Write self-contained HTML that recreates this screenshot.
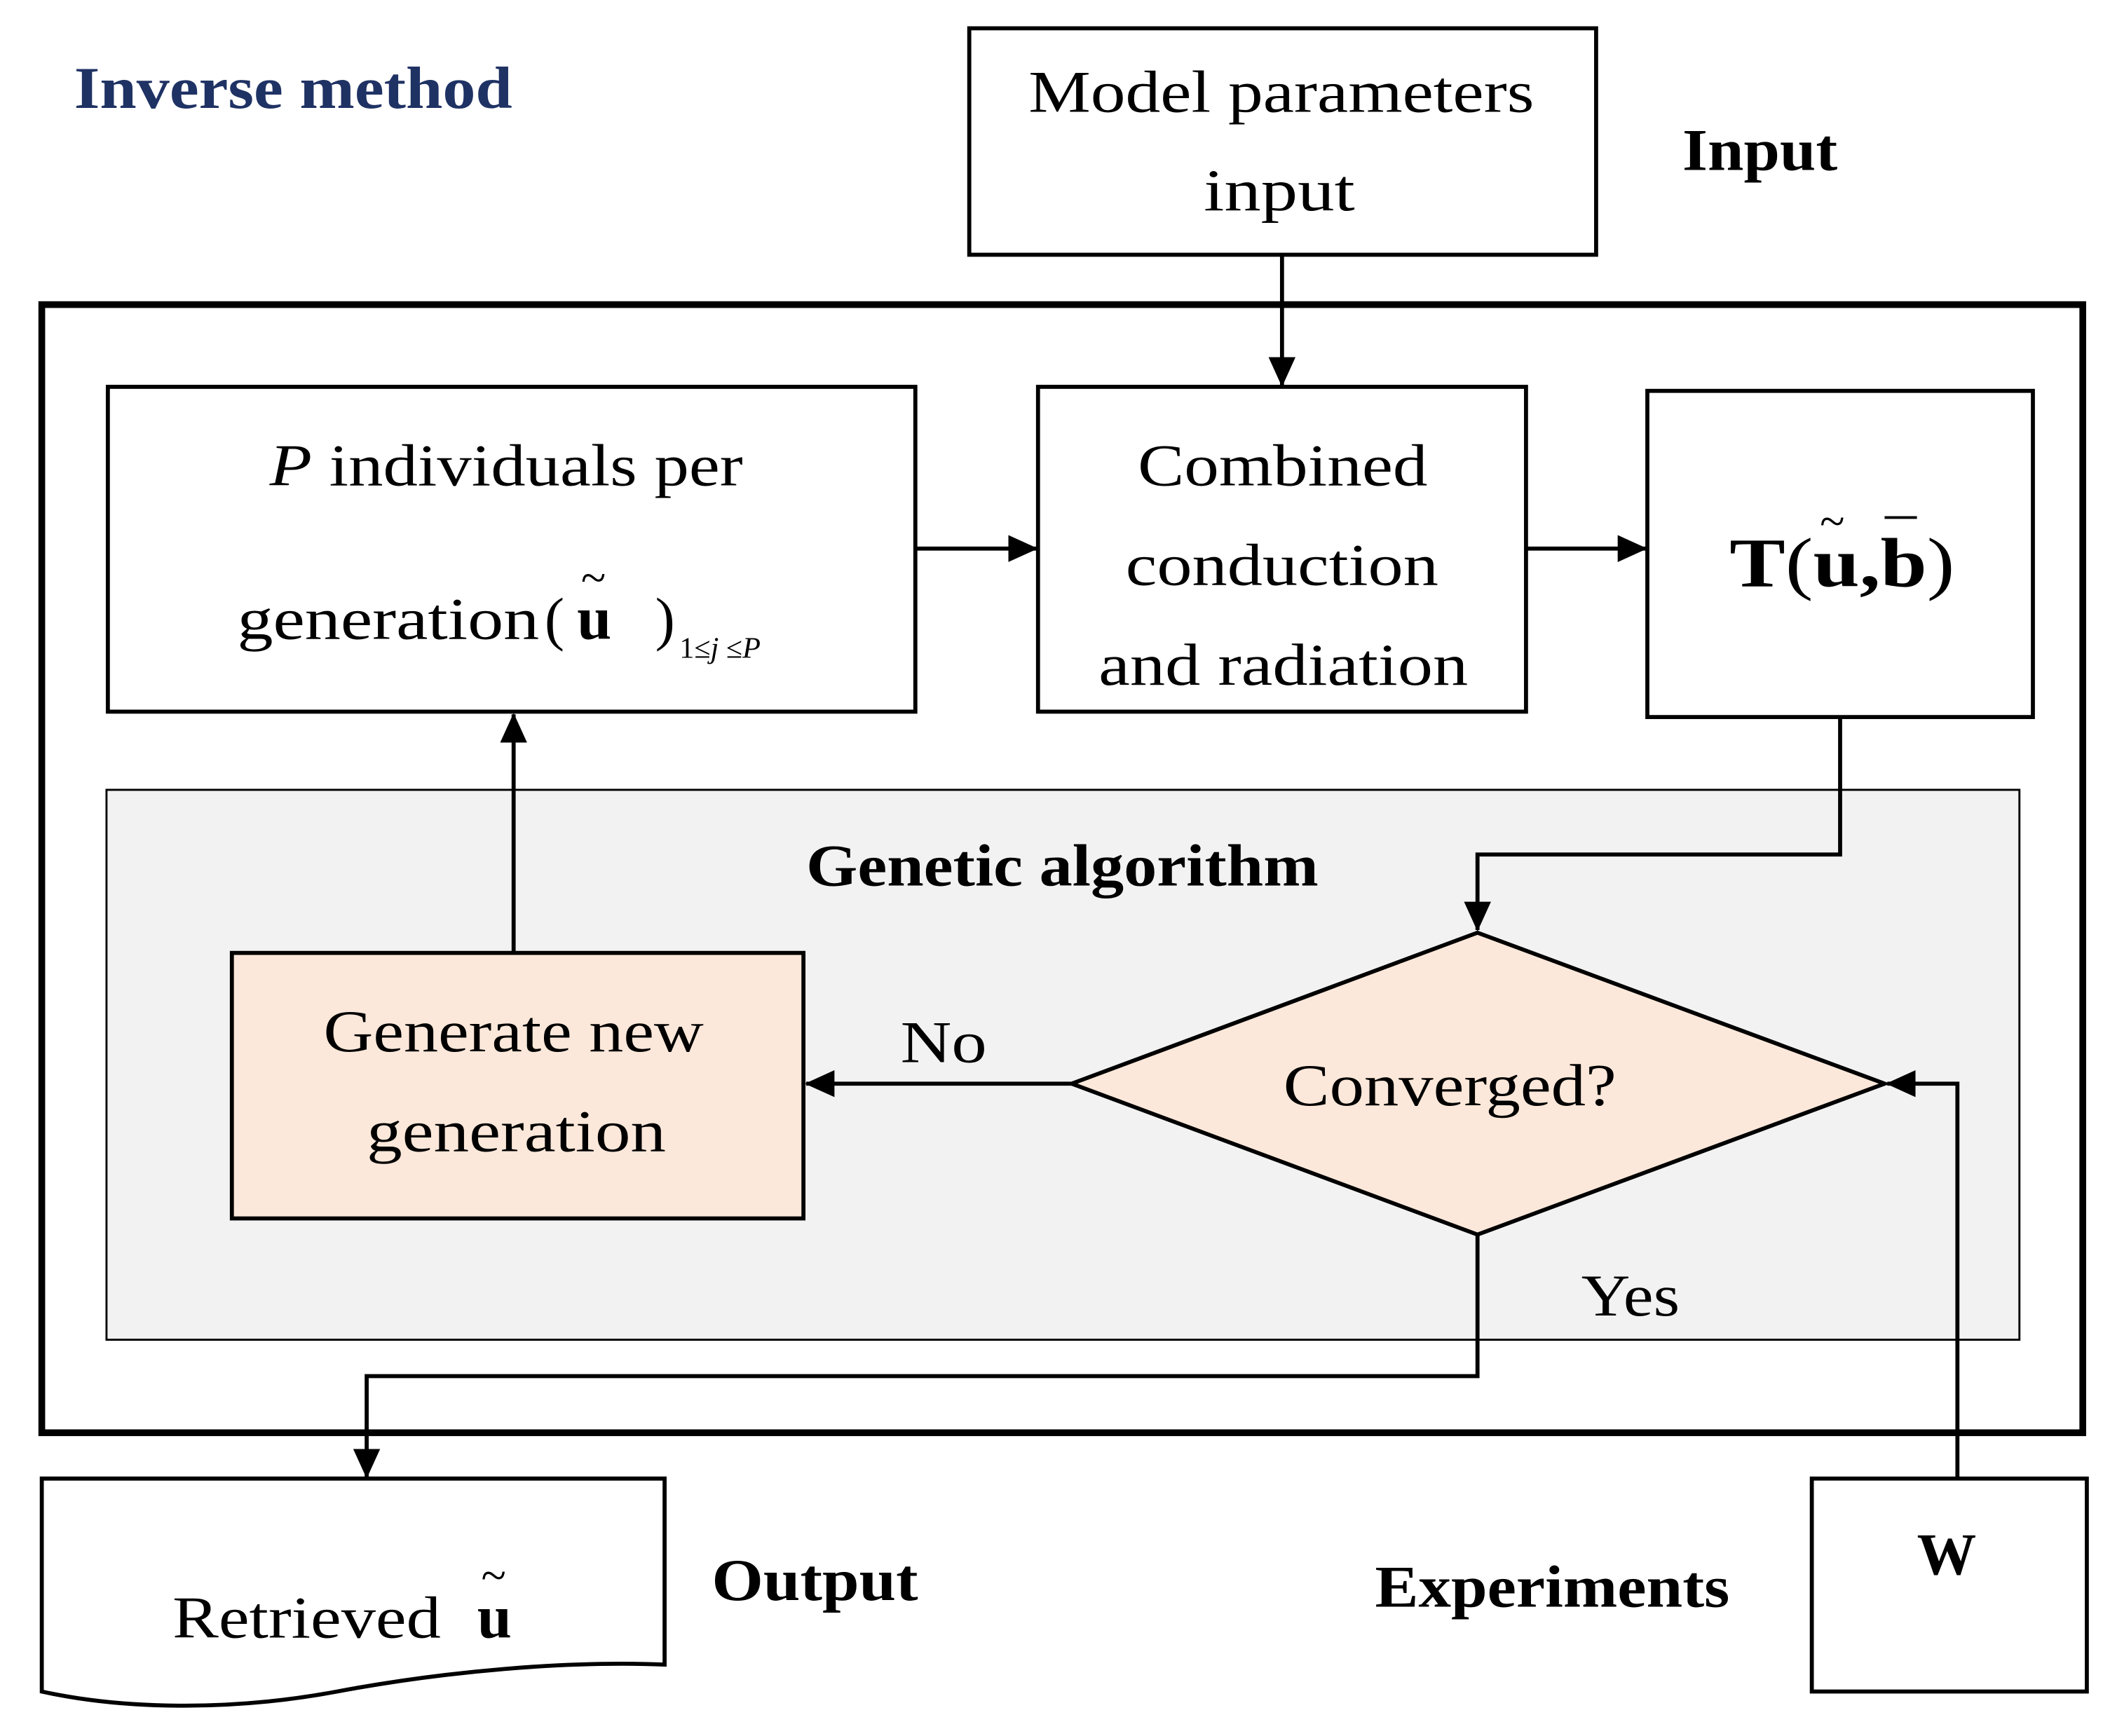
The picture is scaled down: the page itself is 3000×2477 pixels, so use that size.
<!DOCTYPE html>
<html><head><meta charset="utf-8"><style>
html,body{margin:0;padding:0;background:#fff}
svg{display:block}
text{font-family:"Liberation Serif",serif}
</style></head><body>
<svg width="3000" height="2477" viewBox="0 0 1560 1288" preserveAspectRatio="none" xmlns="http://www.w3.org/2000/svg">
<defs>
<marker id="ar" markerWidth="22" markerHeight="20" refX="21" refY="10" orient="auto" markerUnits="userSpaceOnUse" viewBox="0 0 22 20">
<path d="M0,0 L22,10 L0,20 z" fill="#000"/></marker>
</defs>
<rect width="1560" height="1288" fill="#fff"/>
<text x="55" y="80" font-size="44" font-weight="bold" fill="#1f3264" textLength="325" lengthAdjust="spacingAndGlyphs">Inverse method</text>
<rect x="719" y="21" width="465" height="168" fill="#fff" stroke="#000" stroke-width="3"/>
<text x="763" y="83" font-size="44" textLength="375" lengthAdjust="spacingAndGlyphs">Model parameters</text>
<text x="893" y="156" font-size="44" textLength="112" lengthAdjust="spacingAndGlyphs">input</text>
<text x="1248" y="126" font-size="44" font-weight="bold" textLength="115" lengthAdjust="spacingAndGlyphs">Input</text>
<rect x="31" y="226" width="1514" height="837" fill="none" stroke="#000" stroke-width="5"/>
<rect x="79" y="586" width="1419" height="408" fill="#f2f2f2" stroke="#000" stroke-width="1.5"/>
<rect x="80" y="287" width="599" height="241" fill="#fff" stroke="#000" stroke-width="3"/>
<text x="200" y="360" font-size="44" textLength="351" lengthAdjust="spacingAndGlyphs"><tspan font-style="italic">P</tspan> individuals per</text>
<text x="176" y="474" font-size="44" textLength="224" lengthAdjust="spacingAndGlyphs">generation</text>
<text x="404" y="474" font-size="44">(</text>
<text x="428" y="474" font-size="46" font-weight="bold">u</text>
<text x="431" y="440" font-size="34">~</text>
<text x="486" y="474" font-size="44">)</text>
<text x="504" y="488" font-size="22">1≤<tspan font-style="italic">j</tspan> ≤<tspan font-style="italic">P</tspan></text>
<rect x="770" y="287" width="362" height="241" fill="#fff" stroke="#000" stroke-width="3"/>
<text x="844" y="360" font-size="44" textLength="215" lengthAdjust="spacingAndGlyphs">Combined</text>
<text x="835" y="434" font-size="44" textLength="232" lengthAdjust="spacingAndGlyphs">conduction</text>
<text x="815" y="508" font-size="44" textLength="274" lengthAdjust="spacingAndGlyphs">and radiation</text>
<rect x="1222" y="290" width="286" height="242" fill="#fff" stroke="#000" stroke-width="3"/>
<text x="1283" y="435" font-size="52" font-weight="bold" textLength="167" lengthAdjust="spacingAndGlyphs">T<tspan font-weight="normal">(</tspan>u,b<tspan font-weight="normal">)</tspan></text>
<text x="1350" y="398" font-size="34">~</text>
<line x1="1398" y1="384" x2="1422" y2="384" stroke="#000" stroke-width="2"/>
<text x="598" y="657" font-size="44" font-weight="bold" textLength="380" lengthAdjust="spacingAndGlyphs">Genetic algorithm</text>
<rect x="172" y="707" width="424" height="197" fill="#fce8da" stroke="#000" stroke-width="3"/>
<text x="240" y="780" font-size="44" textLength="282" lengthAdjust="spacingAndGlyphs">Generate new</text>
<text x="272" y="854" font-size="44" textLength="222" lengthAdjust="spacingAndGlyphs">generation</text>
<polygon points="795,804 1096,692 1398,804 1096,916" fill="#fce8da" stroke="#000" stroke-width="3"/>
<text x="952" y="820" font-size="44" textLength="247" lengthAdjust="spacingAndGlyphs">Converged?</text>
<text x="668" y="788" font-size="44" textLength="64" lengthAdjust="spacingAndGlyphs">No</text>
<text x="1173" y="976" font-size="44" textLength="73" lengthAdjust="spacingAndGlyphs">Yes</text>
<g stroke="#000" stroke-width="3" fill="none" marker-end="url(#ar)">
<line x1="951" y1="189" x2="951" y2="286"/>
<line x1="679" y1="407" x2="769" y2="407"/>
<line x1="1132" y1="407" x2="1221" y2="407"/>
<polyline points="1365,532 1365,634 1096,634 1096,690"/>
<line x1="381" y1="707" x2="381" y2="530"/>
<line x1="795" y1="804" x2="598" y2="804"/>
<polyline points="1096,916 1096,1021 272,1021 272,1096"/>
<polyline points="1452,1097 1452,804 1400,804"/>
</g>
<path d="M31,1097 L493,1097 L493,1235 C420,1232 330,1240 250,1255 C170,1270 90,1268 31,1255 Z" fill="#fff" stroke="#000" stroke-width="3"/>
<text x="128" y="1215" font-size="44" textLength="199" lengthAdjust="spacingAndGlyphs">Retrieved</text>
<text x="354" y="1215" font-size="46" font-weight="bold">u</text>
<text x="357" y="1180" font-size="34">~</text>
<text x="528" y="1187" font-size="44" font-weight="bold" textLength="153" lengthAdjust="spacingAndGlyphs">Output</text>
<text x="1020" y="1192" font-size="44" font-weight="bold" textLength="263" lengthAdjust="spacingAndGlyphs">Experiments</text>
<rect x="1344" y="1097" width="204" height="158" fill="#fff" stroke="#000" stroke-width="3"/>
<text x="1444" y="1168" font-size="44" font-weight="bold" text-anchor="middle">W</text>
</svg>
</body></html>
